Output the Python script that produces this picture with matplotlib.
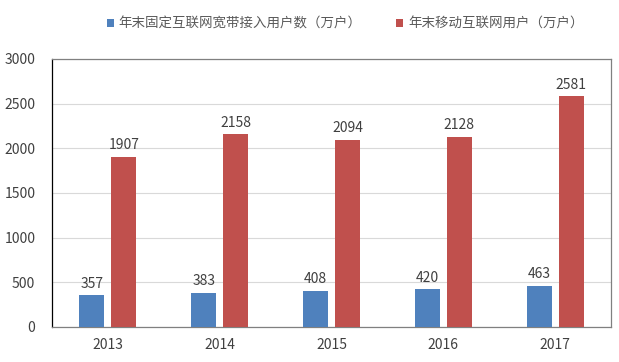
import numpy as np
import matplotlib
matplotlib.use('Agg')
import matplotlib.pyplot as plt

plt.rcParams['font.family'] = ['Noto Sans CJK SC', 'DejaVu Sans']

years = ['2013', '2014', '2015', '2016', '2017']
fixed = [357, 383, 408, 420, 463]
mobile = [1907, 2158, 2094, 2128, 2581]
labels = ['年末固定互联网宽带接入用户数（万户）', '年末移动互联网用户（万户）']

blue = '#4F81BD'
red = '#C0504D'
text_color = '#404040'

fig = plt.figure(figsize=(6.19, 3.62), dpi=100)
ax = fig.add_axes([52 / 619, 1 - 327 / 362, 559 / 619, 268 / 362])

x = np.arange(len(years))
w = 0.223
off = 0.143
b1 = ax.bar(x - off, fixed, w, color=blue, label=labels[0], zorder=3)
b2 = ax.bar(x + off, mobile, w, color=red, label=labels[1], zorder=3)

for bars in (b1, b2):
    for rect in bars:
        h = rect.get_height()
        ax.text(rect.get_x() + rect.get_width() / 2, h + 50, f'{int(h)}',
                ha='center', va='bottom', fontsize=10, color=text_color)

ax.set_xlim(-0.5, 4.5)
ax.set_ylim(0, 3000)
ax.set_yticks(range(0, 3001, 500))
ax.set_xticks(x)
ax.set_xticklabels(years)
ax.yaxis.grid(True, color='#d9d9d9', linewidth=0.8, zorder=0)
ax.tick_params(axis='both', length=0, labelsize=10, colors=text_color)
ax.tick_params(axis='x', pad=8)
ax.tick_params(axis='y', pad=12)
for s in ax.spines.values():
    s.set_color('#808080')
    s.set_linewidth(0.9)
ax.spines['left'].set_color('#000000')

fig.legend(loc='center', bbox_to_anchor=(345 / 619, 1 - 24 / 362), ncol=2,
           frameon=False, fontsize=9.7, handlelength=0.52, handleheight=0.52,
           columnspacing=2.6, handletextpad=0.35, labelcolor='#595959')

fig.savefig('out.png', dpi=100)
